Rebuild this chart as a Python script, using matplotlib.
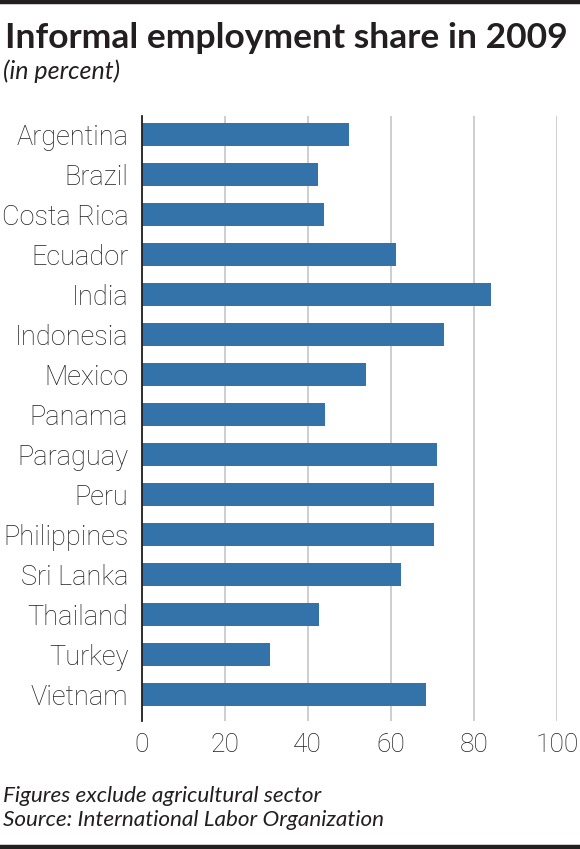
import matplotlib
matplotlib.use("Agg")
import matplotlib.pyplot as plt
from matplotlib.lines import Line2D

countries = ["Argentina", "Brazil", "Costa Rica", "Ecuador", "India", "Indonesia",
             "Mexico", "Panama", "Paraguay", "Peru", "Philippines", "Sri Lanka",
             "Thailand", "Turkey", "Vietnam"]
shares = [50.0, 42.5, 44.0, 61.3, 84.0, 72.9, 54.1, 44.1, 71.1, 70.3, 70.5, 62.5,
          42.6, 30.9, 68.5]
xticks = [0, 20, 40, 60, 80, 100]

bar_color = "#3373a9"
dark = "#231f20"
lab_font = "Roboto"
lab_weight = "light"

fig = plt.figure(figsize=(5.8, 8.49), dpi=100)
ax = fig.add_axes([141.5 / 580, 1 - 721 / 849, (557 - 141.5) / 580, (721 - 116) / 849])

ypos = list(range(len(countries)))
ax.barh(ypos, shares, height=0.57, color=bar_color, zorder=3)
ax.set_xlim(0, 100)
ax.set_ylim(len(countries) - 1 + 0.66, -0.47)

ax.set_yticks(ypos)
ax.set_yticklabels(countries, family=lab_font, weight=lab_weight, fontsize=19.5, color=dark)
ax.set_xticks(xticks)
ax.set_xticklabels([str(t) for t in xticks], family=lab_font, weight=lab_weight,
                   fontsize=19, color=dark)
ax.tick_params(axis="y", length=0, pad=9.5)
ax.tick_params(axis="x", length=0, pad=9)

for s in ["top", "right", "bottom"]:
    ax.spines[s].set_visible(False)
ax.spines["left"].set_color(dark)
ax.spines["left"].set_linewidth(1.3)
ax.spines["left"].set_zorder(4)

ax.xaxis.grid(True, color="#c6c6c6", linewidth=1.2, zorder=0)
ax.set_axisbelow(True)

# title block
fig.text(5 / 580, 1 - 48 / 849, "Informal employment share in 2009", family="Lato",
         weight="bold", fontsize=25.5, color=dark, va="baseline", ha="left")
fig.text(3 / 580, 1 - 79 / 849, "(in percent)", family="Lato", style="italic",
         fontsize=18, color=dark, va="baseline", ha="left")

# footer
fig.text(3 / 580, 1 - 802.5 / 849, "Figures exclude agricultural sector", family="Lato",
         style="italic", fontsize=16.2, color=dark, va="baseline")
fig.text(3 / 580, 1 - 826.5 / 849, "Source: International Labor Organization", family="Lato",
         style="italic", fontsize=16.2, color=dark, va="baseline")

# top and bottom rules
fig.add_artist(Line2D([0, 1], [1 - 2 / 849, 1 - 2 / 849], transform=fig.transFigure,
                      color=dark, linewidth=3.2))
fig.add_artist(Line2D([0, 1], [1 - 847 / 849, 1 - 847 / 849], transform=fig.transFigure,
                      color=dark, linewidth=3.2))

fig.savefig("out.png", dpi=100)
